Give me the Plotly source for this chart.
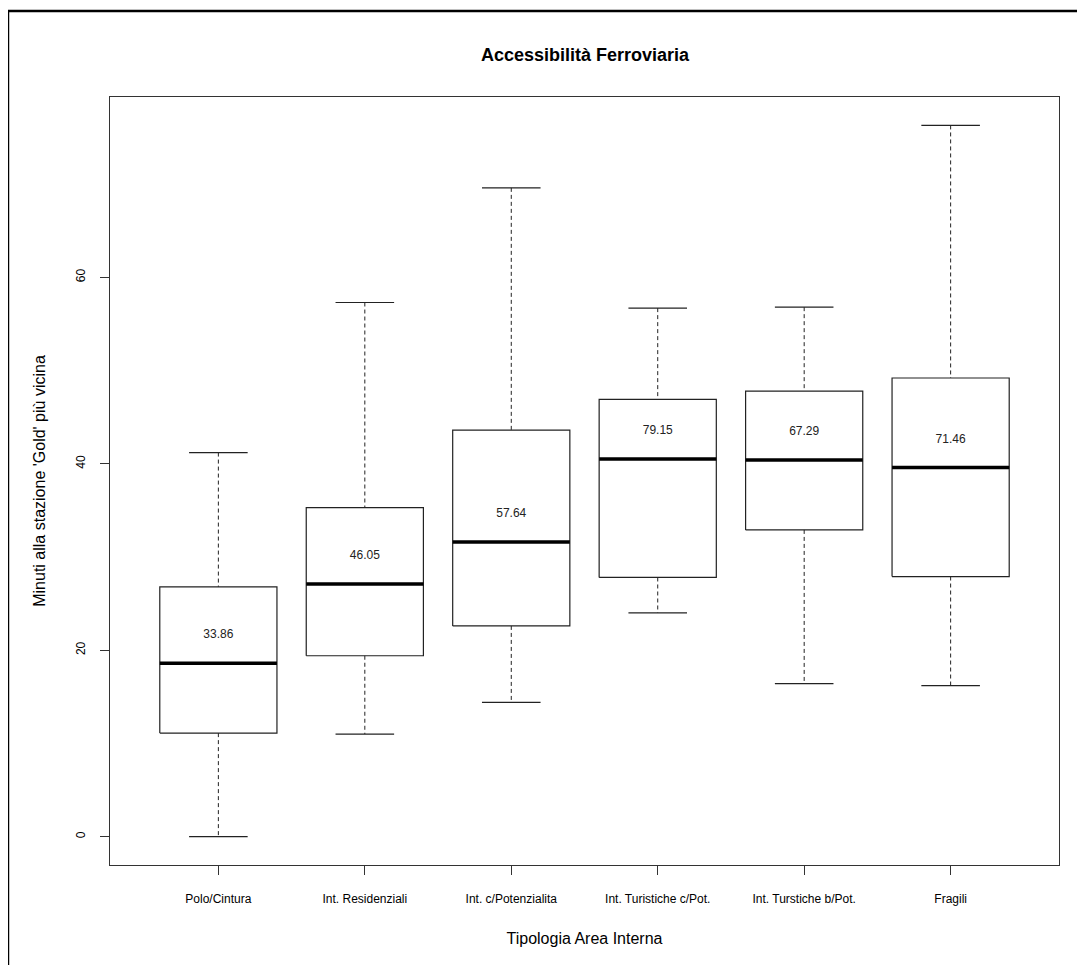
import plotly.graph_objects as go

categories = ["Polo/Cintura", "Int. Residenziali", "Int. c/Potenzialita",
              "Int. Turistiche c/Pot.", "Int. Turstiche b/Pot.", "Fragili"]
lower = [0.0, 11.0, 14.4, 24.0, 16.4, 16.2]
q1 = [11.1, 19.4, 22.6, 27.8, 32.9, 27.9]
median = [18.6, 27.1, 31.6, 40.5, 40.4, 39.6]
q3 = [26.8, 35.3, 43.6, 46.9, 47.8, 49.2]
upper = [41.2, 57.3, 69.6, 56.7, 56.8, 76.3]
box_labels = ["33.86", "46.05", "57.64", "79.15", "67.29", "71.46"]

FONT = "Liberation Sans, Arial, sans-serif"
HW = 0.4      # half box width
CW = 0.2      # half cap width
LABEL_OFFSET = 3

pos = list(range(1, len(categories) + 1))

bx, by, mx, my, wx, wy, cx, cy = [], [], [], [], [], [], [], []
for p, lo, a, m, b, hi in zip(pos, lower, q1, median, q3, upper):
    bx += [p - HW, p + HW, p + HW, p - HW, p - HW, None]
    by += [a, a, b, b, a, None]
    mx += [p - HW, p + HW, None]
    my += [m, m, None]
    wx += [p, p, None, p, p, None]
    wy += [hi, b, None, a, lo, None]
    cx += [p - CW, p + CW, None, p - CW, p + CW, None]
    cy += [hi, hi, None, lo, lo, None]

fig = go.Figure()
fig.add_trace(go.Scatter(x=wx, y=wy, mode="lines", line=dict(color="#222", width=1, dash="4px,3px"),
                         hoverinfo="skip", showlegend=False))
fig.add_trace(go.Scatter(x=cx, y=cy, mode="lines", line=dict(color="#222", width=1.2),
                         hoverinfo="skip", showlegend=False))
fig.add_trace(go.Scatter(x=bx, y=by, mode="lines", line=dict(color="#222", width=1.2),
                         hoverinfo="skip", showlegend=False))
fig.add_trace(go.Scatter(x=mx, y=my, mode="lines", line=dict(color="black", width=3.5),
                         hoverinfo="skip", showlegend=False))
fig.add_trace(go.Scatter(x=pos, y=[m + LABEL_OFFSET for m in median], mode="text",
                         text=box_labels, textfont=dict(family=FONT, size=12, color="#222"),
                         hoverinfo="skip", showlegend=False))

fig.update_layout(
    width=1085, height=965,
    margin=dict(l=102, r=34, t=89, b=108),
    paper_bgcolor="white", plot_bgcolor="white",
    font=dict(family=FONT, color="black"),
    title=dict(text="<b>Accessibilità Ferroviaria</b>", x=0.5318, xanchor="center",
               y=1 - 47 / 965, yanchor="middle", yref="container",
               font=dict(family=FONT, size=18, color="black")),
    xaxis=dict(range=[0.26, 6.74], tickvals=pos, ticktext=categories,
               showgrid=False, zeroline=False, showline=True, mirror=True,
               linecolor="#333", linewidth=1, ticks="outside", ticklen=9,
               tickcolor="#333", tickfont=dict(size=12, family=FONT), ticklabelstandoff=14,
               title=dict(text="Tipologia Area Interna", font=dict(size=16, family=FONT), standoff=27)),
    yaxis=dict(range=[-3.05, 79.35], tickvals=[0, 20, 40, 60],
               showgrid=False, zeroline=False, showline=True, mirror=True,
               linecolor="#333", linewidth=1, ticks="outside", ticklen=9,
               tickcolor="#333", tickangle=-90, tickfont=dict(size=12, family=FONT), ticklabelstandoff=10,
               title=dict(text="Minuti alla stazione 'Gold' più vicina", font=dict(size=16, family=FONT), standoff=24)),
    shapes=[dict(type="rect", xref="paper", yref="paper",
                 x0=-0.1075, x1=1.2, y0=-0.3, y1=1.112,
                 line=dict(color="black", width=2.5), layer="below")],
)

fig.write_html("out.html")
